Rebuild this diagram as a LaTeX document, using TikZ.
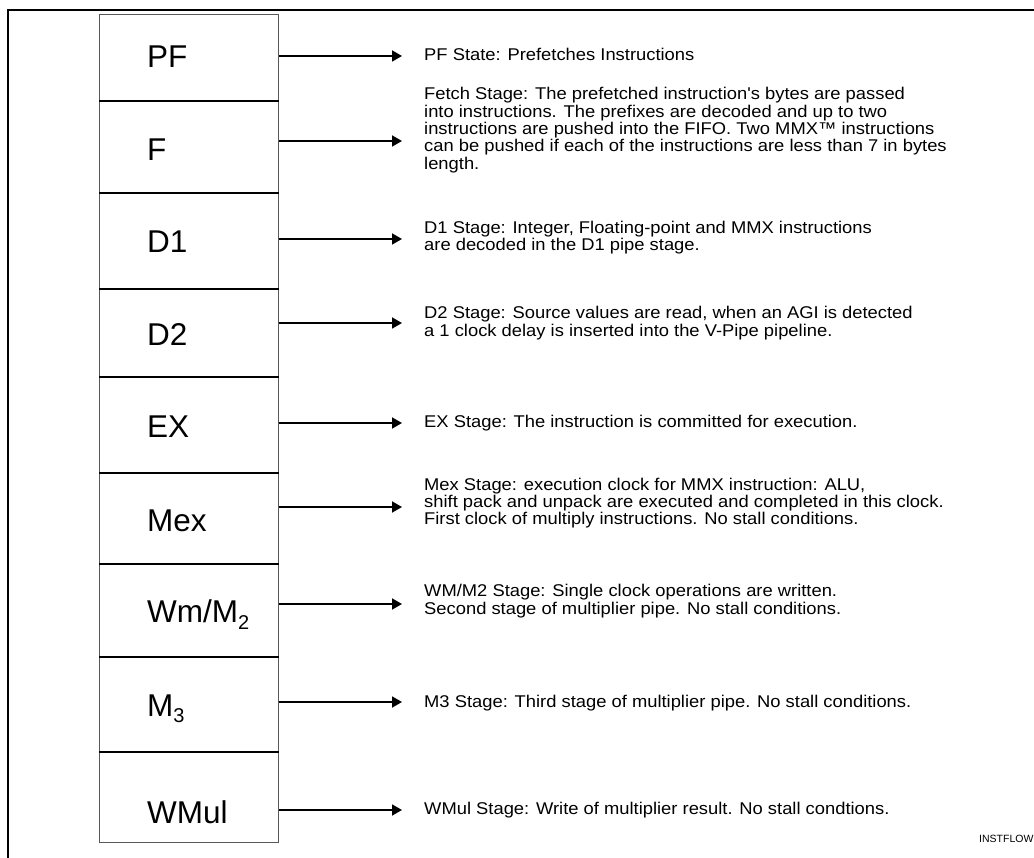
\documentclass[tikz,border=0pt]{standalone}
\usepackage{fontspec}
\setmainfont{Liberation Sans}
\newfontfamily\descfont[FakeStretch=1.08]{Liberation Sans}
\usetikzlibrary{arrows.meta}
\begin{document}
\begin{tikzpicture}[x=1pt,y=-1pt,
  frameline/.style={line width=2pt,black},
  rowbox/.style={draw=black!65,line width=1pt,minimum width=179pt,inner sep=0pt,anchor=north west},
  divider/.style={line width=1.8pt,black},
  stagelabel/.style={anchor=base west,inner sep=0pt,font=\fontsize{31.5}{31.5}\selectfont},
  desc/.style={anchor=base west,inner sep=0pt,align=left,font=\descfont\fontsize{17}{17.3}\selectfont},
  arr/.style={line width=1.8pt,-{Triangle[length=10pt,width=11pt]}}
]
\useasboundingbox (0,0) rectangle (1034,858);
\fill[white] (0,0) rectangle (1034,858);
% frame
\draw[frameline] (8,858) -- (8,10) -- (1034,10);

% rows
\node[rowbox,minimum height=86pt] (pf) at (99,14) {};
\node[rowbox,minimum height=92pt] (f) at (99,100) {};
\node[rowbox,minimum height=96pt] (d1) at (99,192) {};
\node[rowbox,minimum height=88pt] (d2) at (99,288) {};
\node[rowbox,minimum height=96pt] (ex) at (99,376) {};
\node[rowbox,minimum height=91pt] (mex) at (99,472) {};
\node[rowbox,minimum height=93pt] (wm) at (99,563) {};
\node[rowbox,minimum height=95pt] (m3) at (99,656) {};
\node[rowbox,minimum height=91pt] (wmul) at (99,751) {};

\foreach \r in {pf,f,d1,d2,ex,mex,wm,m3}
  \draw[divider] (\r.south west) -- (\r.south east);

% labels
\node[stagelabel] (pfl) at (147,68) {PF};
\node[stagelabel] (fl) at (147,161) {F};
\node[stagelabel] (d1l) at (147,252.5) {D1};
\node[stagelabel] (d2l) at (147,345.5) {D2};
\node[stagelabel] (exl) at (147,438) {EX};
\node[stagelabel] (mexl) at (147,531.5) {Mex};
\node[stagelabel] (wml) at (147,622.5) {Wm/M\raisebox{-0.22em}{\fontsize{20}{20}\selectfont 2}};
\node[stagelabel] (m3l) at (147,716) {M\raisebox{-0.22em}{\fontsize{20}{20}\selectfont 3}};
\node[stagelabel] (wmull) at (147,823) {WMul};

% arrow ends
\coordinate (pfe) at (402,56);
\coordinate (fe) at (402,141);
\coordinate (d1e) at (402,239);
\coordinate (d2e) at (402,323);
\coordinate (exe) at (402,423);
\coordinate (mexe) at (402,507);
\coordinate (wme) at (402,604);
\coordinate (m3e) at (402,702);
\coordinate (wmule) at (402,810);

\foreach \r in {pf,f,d1,d2,ex,mex,wm,m3,wmul}
  \draw[arr] (\r.east |- \r e) -- (\r e);

% descriptions (base anchor = baseline of last line)
\node[desc] (pft) at (424,61) {PF State: Prefetches Instructions};
\node[desc] (ft) at (424,169.2) {Fetch Stage: The prefetched instruction's bytes are passed\\
into instructions. The prefixes are decoded and up to two\\
instructions are pushed into the FIFO. Two MMX™ instructions\\
can be pushed if each of the instructions are less than 7 in bytes\\
length.};
\node[desc] (d1t) at (424,250.6) {D1 Stage: Integer, Floating-point and MMX instructions\\
are decoded in the D1 pipe stage.};
\node[desc] (d2t) at (424,336.3) {D2 Stage: Source values are read, when an AGI is detected\\
a 1 clock delay is inserted into the V-Pipe pipeline.};
\node[desc] (ext) at (424,428) {EX Stage: The instruction is committed for execution.};
\node[desc] (mext) at (424,524.6) {Mex Stage: execution clock for MMX instruction: ALU,\\
shift pack and unpack are executed and completed in this clock.\\
First clock of multiply instructions. No stall conditions.};
\node[desc] (wmt) at (424,614) {WM/M2 Stage: Single clock operations are written.\\
Second stage of multiplier pipe. No stall conditions.};
\node[desc] (m3t) at (424,707) {M3 Stage: Third stage of multiplier pipe. No stall conditions.};
\node[desc] (wmult) at (424,814) {WMul Stage: Write of multiplier result. No stall condtions.};

\node[anchor=base west,inner sep=0pt,font=\fontsize{10.5}{10.5}\selectfont] (tag) at (979,842) {INSTFLOW};
\end{tikzpicture}
\end{document}
